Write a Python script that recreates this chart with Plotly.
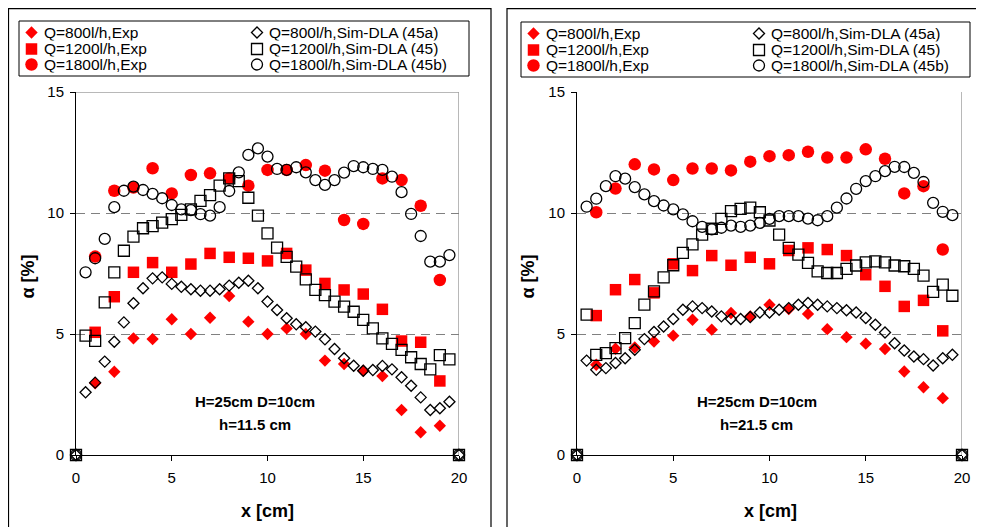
import plotly.graph_objects as go

# ---------------- data ----------------
x_exp = [1, 2, 3, 4, 5, 6, 7, 8, 9, 10, 11, 12, 13, 14, 15, 16, 17, 18, 19]
x_sim = [0, 0.5, 1.0, 1.5, 2.0, 2.5, 3.0, 3.5, 4.0, 4.5, 5.0, 5.5, 6.0, 6.5, 7.0, 7.5,
         8.0, 8.5, 9.0, 9.5, 10.0, 10.5, 11.0, 11.5, 12.0, 12.5, 13.0, 13.5, 14.0,
         14.5, 15.0, 15.5, 16.0, 16.5, 17.0, 17.5, 18.0, 18.5, 19.0, 19.5, 20]

# h = 11.5 cm (left)
L_exp800 = [2.96, 3.44, 4.82, 4.79, 5.61, 5.0, 5.67, 6.57, 5.51, 5.0, 5.23, 5.0, 3.9,
            3.76, 3.48, 3.26, 1.86, 0.94, 1.21]
L_exp1200 = [5.07, 6.54, 7.55, 7.95, 7.55, 7.89, 8.33, 8.17, 8.13, 8.02, 8.33, 7.64,
             7.09, 6.82, 6.65, 6.02, 4.71, 4.66, 3.06]
L_exp1800 = [8.2, 10.92, 11.05, 11.85, 10.81, 11.57, 11.64, 11.43, 11.13, 11.78, 11.78,
             11.98, 11.75, 9.71, 9.55, 11.43, 11.36, 10.3, 7.23]
L_sim800 = [0, 2.59, 2.99, 3.86, 4.68, 5.48, 6.27, 6.89, 7.3, 7.34, 7.07, 6.95, 6.85,
            6.79, 6.79, 6.85, 7.0, 7.12, 7.2, 6.89, 6.34, 5.99, 5.65, 5.4, 5.28, 5.1,
            4.78, 4.38, 4.0, 3.69, 3.48, 3.51, 3.68, 3.54, 3.21, 2.86, 2.38, 1.86, 1.93,
            2.2, 0]
L_sim1200 = [0, 4.93, 4.72, 6.31, 7.55, 8.44, 9.02, 9.37, 9.46, 9.6, 9.75, 9.92, 10.15,
             10.5, 10.74, 11.13, 11.43, 11.32, 10.63, 9.89, 9.16, 8.57, 8.19, 7.78, 7.26,
             6.82, 6.61, 6.34, 6.13, 5.92, 5.58, 5.23, 4.82, 4.59, 4.34, 4.04, 3.76, 3.54,
             4.13, 3.95, 0]
L_sim1800 = [0, 7.55, 8.13, 8.93, 10.24, 10.92, 11.09, 10.95, 10.79, 10.61, 10.33, 10.15,
             10.12, 9.95, 9.89, 10.24, 10.91, 11.68, 12.4, 12.67, 12.33, 11.82, 11.78,
             11.89, 11.68, 11.36, 11.16, 11.36, 11.67, 11.94, 11.89, 11.82, 11.78, 11.5,
             10.86, 9.96, 9.05, 7.99, 7.99, 8.26, 0]

# h = 21.5 cm (right)
R_exp800 = [3.73, 4.39, 4.44, 4.69, 4.93, 5.59, 5.18, 5.87, 5.73, 6.21, 6.03, 5.83, 5.2,
            4.87, 4.6, 4.38, 3.45, 2.8, 2.35]
R_exp1200 = [5.76, 6.83, 7.25, 6.7, 7.9, 7.62, 8.24, 7.84, 8.17, 7.9, 8.45, 8.56, 8.49,
             8.24, 7.45, 6.97, 6.14, 6.39, 5.13]
R_exp1800 = [10.03, 11.01, 12.01, 11.8, 11.36, 11.84, 11.84, 11.76, 12.12, 12.35, 12.39,
             12.53, 12.29, 12.29, 12.63, 12.24, 10.81, 11.11, 8.49]
R_sim800 = [0, 3.9, 3.52, 3.59, 3.8, 4.0, 4.35, 4.79, 5.08, 5.31, 5.62, 6.0, 6.14, 6.07,
            5.93, 5.73, 5.62, 5.62, 5.7, 5.89, 5.89, 6.0, 6.07, 6.21, 6.28, 6.21, 6.14,
            6.07, 5.98, 5.89, 5.66, 5.38, 5.06, 4.62, 4.32, 4.07, 3.96, 3.7, 4.0, 4.14, 0]
R_sim1200 = [0, 5.8, 4.14, 4.21, 4.42, 4.83, 5.45, 6.21, 6.76, 7.34, 7.84, 8.35, 8.7,
             9.11, 9.35, 9.76, 10.08, 10.17, 10.22, 10.03, 9.69, 9.11, 8.56, 8.28, 7.94,
             7.59, 7.52, 7.52, 7.69, 7.83, 7.96, 8.0, 7.96, 7.83, 7.8, 7.69, 7.41, 6.74,
             7.04, 6.58, 0]
R_sim1800 = [0, 10.26, 10.59, 11.11, 11.52, 11.42, 11.07, 10.77, 10.49, 10.31, 10.15, 9.94,
             9.66, 9.43, 9.32, 9.39, 9.48, 9.43, 9.48, 9.59, 9.76, 9.87, 9.87, 9.87, 9.77,
             9.7, 9.87, 10.22, 10.6, 11.0, 11.32, 11.52, 11.73, 11.91, 11.9, 11.66, 11.28,
             10.42, 10.05, 9.91, 0]

labels = ["Q=800l/h,Exp", "Q=1200l/h,Exp", "Q=1800l/h,Exp",
          "Q=800l/h,Sim-DLA (45a)", "Q=1200l/h,Sim-DLA (45)", "Q=1800l/h,Sim-DLA (45b)"]
x_ticks = [0, 5, 10, 15, 20]
y_ticks = [0, 5, 10, 15]
note_lines_left = ["H=25cm D=10cm", "h=11.5 cm"]
note_lines_right = ["H=25cm D=10cm", "h=21.5 cm"]
x_title = "x [cm]"
y_title = "α [%]"

# ---------------- styles ----------------
W, H = 984, 527
OFF = 8  # page body margin: convert page pixels to figure pixels
FONT = "Liberation Sans, Arial, sans-serif"
RED = "#FF0000"
styles = [
    dict(symbol="diamond", size=9.5, color=RED, line=dict(width=0)),
    dict(symbol="square", size=11.5, color=RED, line=dict(width=0)),
    dict(symbol="circle", size=12.5, color=RED, line=dict(width=0)),
    dict(symbol="diamond-open", size=8.5, color="black", line=dict(width=1.3, color="black")),
    dict(symbol="square-open", size=11, color="black", line=dict(width=1.3, color="black")),
    dict(symbol="circle-open", size=11, color="black", line=dict(width=1.3, color="black")),
]


def px(v):
    return (v - OFF) / W


def py(v):
    return 1 - (v - OFF) / H


fig = go.Figure()

panels = [
    dict(xa="x", ya="y", series=[L_exp800, L_exp1200, L_exp1800, L_sim800, L_sim1200, L_sim1800],
         notes=note_lines_left),
    dict(xa="x2", ya="y2", series=[R_exp800, R_exp1200, R_exp1800, R_sim800, R_sim1200, R_sim1800],
         notes=note_lines_right),
]

for p in panels:
    for i, ser in enumerate(p["series"]):
        xs = x_exp if i < 3 else x_sim
        fig.add_trace(go.Scatter(x=xs, y=ser, mode="markers", marker=styles[i],
                                 xaxis=p["xa"], yaxis=p["ya"], showlegend=False,
                                 cliponaxis=False, name=labels[i]))

# -------- legend (drawn on a pixel-space helper axis) --------
legend_boxes = [(19, 21, 469, 76), (521, 22, 970, 77)]
col_off_marker = [12.5, 238]
col_off_text = [23, 248]
row_off = [11.5, 28, 43.5]
for (bx0, by0, bx1, by1) in legend_boxes:
    fig.add_shape(type="rect", xref="paper", yref="paper", x0=px(bx0), x1=px(bx1),
                  y0=py(by1), y1=py(by0), line=dict(color="black", width=1))
    for i, lab in enumerate(labels):
        c, r = divmod(i, 3)
        mx = bx0 + col_off_marker[c] - OFF
        my = by0 + row_off[r] - OFF
        fig.add_trace(go.Scatter(x=[mx], y=[my], mode="markers", marker=styles[i],
                                 xaxis="x3", yaxis="y3", showlegend=False,
                                 hoverinfo="skip", cliponaxis=False))
        fig.add_annotation(x=bx0 + col_off_text[c] - OFF, y=my, xref="x3", yref="y3", text=lab,
                           showarrow=False, xanchor="left", yanchor="middle", height=15.5,
                           font=dict(family=FONT, size=15.5, color="black"))

# -------- panel frames --------
for (fx0, fx1) in [(8.5, 491), (507, 980)]:
    fig.add_shape(type="rect", xref="paper", yref="paper", x0=px(fx0), x1=px(fx1),
                  y0=-0.02, y1=py(8.6), line=dict(color="black", width=1.2), layer="below")

# -------- plot-area borders (right side, left-top) --------
for xa, ya in [("x", "y"), ("x2", "y2")]:
    fig.add_shape(type="line", xref=xa, yref=ya, x0=20, x1=20, y0=0, y1=15,
                  line=dict(color="#A0A0A0", width=1.5), layer="below")
fig.add_shape(type="line", xref="x", yref="y", x0=0, x1=20, y0=15, y1=15,
              line=dict(color="#A0A0A0", width=1.5), layer="below")

# -------- notes --------
for p in panels:
    fig.add_annotation(x=9.35, y=2.2, xref=p["xa"], yref=p["ya"], text="<b>%s</b>" % p["notes"][0],
                       showarrow=False, xanchor="center", yanchor="middle",
                       font=dict(family=FONT, size=15, color="black"))
    fig.add_annotation(x=9.35, y=1.28, xref=p["xa"], yref=p["ya"], text="<b>%s</b>" % p["notes"][1],
                       showarrow=False, xanchor="center", yanchor="middle",
                       font=dict(family=FONT, size=15, color="black"))

# -------- axis titles --------
for cx in [27, 527]:
    fig.add_annotation(x=px(cx), y=py(276.5), xref="paper", yref="paper",
                       text="<b>%s</b>" % y_title, textangle=-90, showarrow=False,
                       xanchor="center", yanchor="middle",
                       font=dict(family=FONT, size=18, color="black"))
for cx in [267, 770]:
    fig.add_annotation(x=px(cx), y=py(511), xref="paper", yref="paper",
                       text="<b>%s</b>" % x_title, showarrow=False,
                       xanchor="center", yanchor="middle",
                       font=dict(family=FONT, size=18, color="black"))

xcommon = dict(range=[0, 20], tickvals=x_ticks, ticks="outside", ticklen=5, tickcolor="black",
               showline=True, linecolor="black", linewidth=1, showgrid=False, zeroline=False,
               automargin=False,
               tickfont=dict(family=FONT, size=15, color="black"), ticklabelstandoff=4)
ycommon = dict(range=[0, 15], tickvals=y_ticks, ticks="outside", ticklen=5, tickcolor="black",
               showline=True, linecolor="black", linewidth=1, showgrid=True,
               gridcolor="#808080", gridwidth=1, griddash="9px,6px", zeroline=False,
               automargin=False,
               tickfont=dict(family=FONT, size=15, color="black"), ticklabelstandoff=3)

fig.update_layout(
    width=W, height=H, margin=dict(l=0, r=0, t=0, b=0, autoexpand=False),
    paper_bgcolor="white", plot_bgcolor="rgba(0,0,0,0)",
    xaxis=dict(domain=[px(76), px(459)], anchor="y", **xcommon),
    yaxis=dict(domain=[py(455), py(92)], anchor="x", **ycommon),
    xaxis2=dict(domain=[px(577), px(962)], anchor="y2", **xcommon),
    yaxis2=dict(domain=[py(455), py(92)], anchor="x2", **ycommon),
    xaxis3=dict(domain=[0, 1], range=[0, W], visible=False, anchor="y3", fixedrange=True,
                automargin=False),
    yaxis3=dict(domain=[0, 1], range=[H, 0], visible=False, anchor="x3", fixedrange=True,
                automargin=False),
    showlegend=False,
)

fig.write_html("out.html")
